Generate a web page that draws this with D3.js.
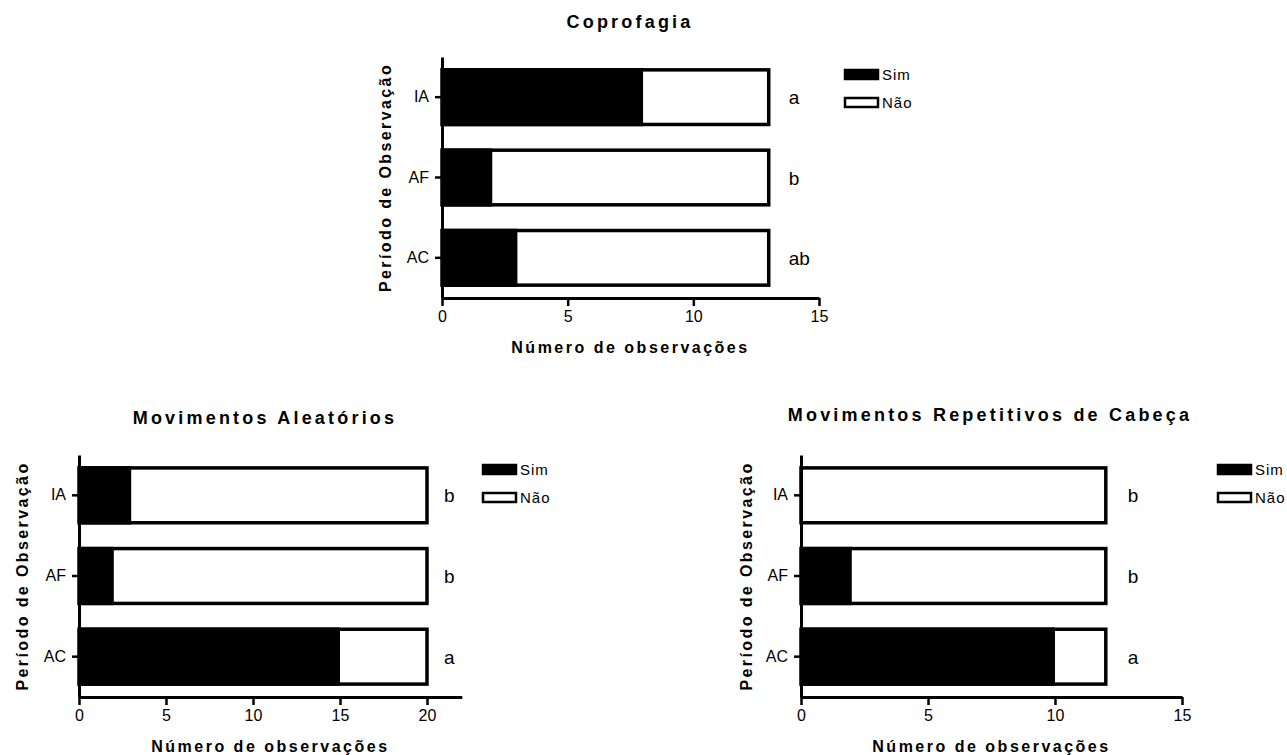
<!DOCTYPE html>
<html>
<head>
<meta charset="utf-8">
<script src="https://cdn.jsdelivr.net/npm/d3@7"></script>
<style>
  body { margin: 0; background: #fff; }
  text { font-family: "Liberation Sans", Arial, sans-serif; fill: #000; }
</style>
</head>
<body>
<div id="main"></div>
<script>
/*********************************************************
 * Data
 *********************************************************/
const periods = ['IA', 'AF', 'AC'];
const seriesNames = ['Sim', 'Não'];

const copSim = [8, 2, 3];
const copTotal = [13, 13, 13];
const copLetters = ['a', 'b', 'ab'];
const copTicks = [0, 5, 10, 15];

const aleSim = [3, 2, 15];
const aleTotal = [20, 20, 20];
const aleLetters = ['b', 'b', 'a'];
const aleTicks = [0, 5, 10, 15, 20];

const cabSim = [0, 2, 10];
const cabTotal = [12, 12, 12];
const cabLetters = ['b', 'b', 'a'];
const cabTicks = [0, 5, 10, 15];

const xTitle = 'Número de observações';
const yTitle = 'Período de Observação';

/*********************************************************
 * Layout of the three panels
 *********************************************************/
const svg = d3.select('#main')
  .append('svg')
  .attr('width', 1287)
  .attr('height', 755);

const panels = [
  { title: 'Coprofagia', sim: copSim, total: copTotal, letters: copLetters, ticks: copTicks, xMax: 15,
    x: [442, 819], y: [57, 298], titleX: 630, titleY: 28, yTitleX: 391, letterDx: 20, legend: [845, 70] },
  { title: 'Movimentos Aleatórios', sim: aleSim, total: aleTotal, letters: aleLetters, ticks: aleTicks, xMax: 22,
    x: [79, 461.8], y: [455, 697], titleX: 265, titleY: 424, yTitleX: 28, letterDx: 17, legend: [483, 465] },
  { title: 'Movimentos Repetitivos de Cabeça', sim: cabSim, total: cabTotal, letters: cabLetters, ticks: cabTicks, xMax: 15,
    x: [801, 1182], y: [455, 697], titleX: 990, titleY: 421, yTitleX: 752, letterDx: 22, legend: [1218, 465] }
];

const tickFont = '"Liberation Sans", Arial, sans-serif';

panels.forEach(drawPanel);

function drawPanel(p) {
  const g = svg.append('g');

  const x = d3.scaleLinear().domain([0, p.xMax]).range(p.x);
  const y = d3.scaleBand().domain(periods).range(p.y)
    .paddingInner(0.32).paddingOuter(0.16);

  // total bar (Não) with thick border, then Sim part in black
  g.selectAll('.total')
    .data(periods)
    .enter().append('rect')
    .attr('x', x(0))
    .attr('y', d => y(d))
    .attr('width', (d, i) => x(p.total[i]) - x(0))
    .attr('height', y.bandwidth())
    .attr('fill', '#fff')
    .attr('stroke', '#000')
    .attr('stroke-width', 3.5);

  g.selectAll('.sim')
    .data(periods)
    .enter().append('rect')
    .attr('x', x(0))
    .attr('y', d => y(d) - 1.75)
    .attr('width', (d, i) => x(p.sim[i]) - x(0))
    .attr('height', y.bandwidth() + 3.5)
    .attr('fill', '#000');

  // letters
  g.selectAll('.letter')
    .data(periods)
    .enter().append('text')
    .attr('x', (d, i) => x(p.total[i]) + p.letterDx)
    .attr('y', d => y(d) + y.bandwidth() / 2 + 7)
    .style('font-size', '19px')
    .text((d, i) => p.letters[i]);

  // axes
  const gx = g.append('g')
    .attr('transform', `translate(0,${p.y[1]})`)
    .call(d3.axisBottom(x).tickValues(p.ticks).tickSize(8).tickSizeOuter(0).tickPadding(5));
  gx.select('.domain').attr('stroke-width', 3);
  gx.selectAll('.tick line').attr('stroke-width', 2.5);
  gx.selectAll('.tick text').style('font-size', '16px').style('font-family', tickFont);

  const gy = g.append('g')
    .attr('transform', `translate(${p.x[0]},0)`)
    .call(d3.axisLeft(y).tickSize(7).tickSizeOuter(0).tickPadding(6));
  gy.select('.domain').attr('stroke-width', 3);
  gy.selectAll('.tick line').attr('stroke-width', 2.5);
  gy.selectAll('.tick text').style('font-size', '16px').style('font-family', tickFont);

  // titles
  g.append('text')
    .attr('x', p.titleX)
    .attr('y', p.titleY)
    .attr('text-anchor', 'middle')
    .style('font-size', '18px')
    .style('font-weight', 'bold')
    .style('letter-spacing', '3.2px')
    .text(p.title);

  g.append('text')
    .attr('x', (p.x[0] + p.x[1]) / 2)
    .attr('y', p.y[1] + 55)
    .attr('text-anchor', 'middle')
    .style('font-size', '16px')
    .style('font-weight', 'bold')
    .style('letter-spacing', '2.5px')
    .text(xTitle);

  g.append('text')
    .attr('transform', `translate(${p.yTitleX},${(p.y[0] + p.y[1]) / 2}) rotate(-90)`)
    .attr('text-anchor', 'middle')
    .style('font-size', '16px')
    .style('font-weight', 'bold')
    .style('letter-spacing', '2.4px')
    .text(yTitle);

  // legend
  const lg = g.append('g').attr('transform', `translate(${p.legend[0]},${p.legend[1]})`);
  seriesNames.forEach((s, i) => {
    lg.append('rect')
      .attr('x', 0)
      .attr('y', i * 28)
      .attr('width', 33)
      .attr('height', 9)
      .attr('fill', i === 0 ? '#000' : '#fff')
      .attr('stroke', '#000')
      .attr('stroke-width', 2.5);
    lg.append('text')
      .attr('x', 37)
      .attr('y', i * 28 + 10)
      .style('font-size', '15px')
      .style('letter-spacing', '1px')
      .text(s);
  });
}
</script>
</body>
</html>
